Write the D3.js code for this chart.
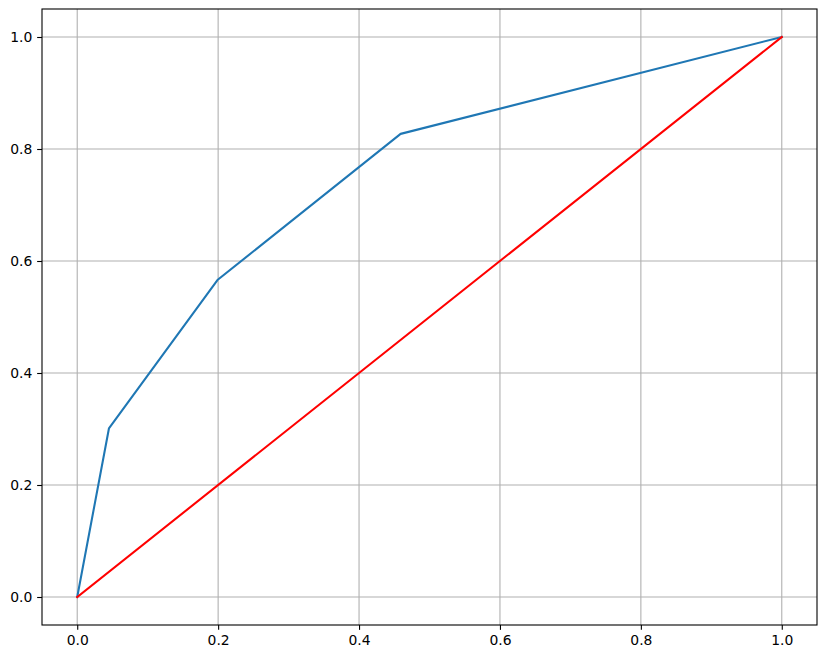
<!DOCTYPE html>
<html lang="en">
<head>
  <meta charset="UTF-8">
  <title>ROC</title>
  <style>
    body { margin: 0; background: #ffffff; }
    svg { display: block; font-family: "DejaVu Sans", sans-serif; }
    .grid line { stroke: #b0b0b0; stroke-width: 1.1; }
  </style>
  <script type="text/javascript" src="https://d3js.org/d3.v7.min.js"></script>
</head>
<body>
<script type="text/javascript">

  var fpr = [0.0, 0.045, 0.199, 0.459, 1.0];
  var tpr = [0.0, 0.301, 0.566, 0.827, 1.0];
  var diagX = [0, 1];
  var diagY = [0, 1];
  var xTicks = [0.0, 0.2, 0.4, 0.6, 0.8, 1.0];
  var yTicks = [0.0, 0.2, 0.4, 0.6, 0.8, 1.0];

  var width = 826, height = 659;
  // plot box edges (note: "top" is taken by window.top)
  var boxLeft = 42, boxTop = 9, boxRight = 817, boxBottom = 625;

  var svg = d3.select("body")
    .append("svg")
    .attr("width", width)
    .attr("height", height);

  var x = d3.scaleLinear().domain([-0.05, 1.05]).range([boxLeft, boxRight]);
  var y = d3.scaleLinear().domain([-0.05, 1.05]).range([boxBottom, boxTop]);

  // grid
  var grid = svg.append("g").attr("class", "grid");
  grid.selectAll("line.gx").data(xTicks).enter()
    .append("line")
    .attr("class", "gx")
    .attr("x1", function(d) { return x(d); })
    .attr("x2", function(d) { return x(d); })
    .attr("y1", boxTop).attr("y2", boxBottom);
  grid.selectAll("line.gy").data(yTicks).enter()
    .append("line")
    .attr("class", "gy")
    .attr("y1", function(d) { return y(d); })
    .attr("y2", function(d) { return y(d); })
    .attr("x1", boxLeft).attr("x2", boxRight);

  var line = d3.line()
    .x(function(d) { return x(d[0]); })
    .y(function(d) { return y(d[1]); });

  svg.append("path")
    .datum(d3.zip(fpr, tpr))
    .attr("d", line)
    .attr("fill", "none")
    .attr("stroke", "#1f77b4")
    .attr("stroke-width", 2.08)
    .attr("stroke-linejoin", "round")
    .attr("stroke-linecap", "square");

  svg.append("path")
    .datum(d3.zip(diagX, diagY))
    .attr("d", line)
    .attr("fill", "none")
    .attr("stroke", "red")
    .attr("stroke-width", 2.08)
    .attr("stroke-linecap", "square");

  // axes
  var fmt = d3.format(".1f");
  var xAxis = svg.append("g")
    .attr("transform", "translate(0," + boxBottom + ")")
    .call(d3.axisBottom(x).tickValues(xTicks).tickFormat(fmt).tickSize(4.86).tickPadding(4.86));
  var yAxis = svg.append("g")
    .attr("transform", "translate(" + boxLeft + ",0)")
    .call(d3.axisLeft(y).tickValues(yTicks).tickFormat(fmt).tickSize(4.86).tickPadding(4.86));

  [xAxis, yAxis].forEach(function(a) {
    a.select(".domain").remove();
    a.selectAll(".tick line").attr("stroke", "#000").attr("stroke-width", 1.1);
    a.selectAll(".tick text").attr("fill", "#000")
      .style("font-size", "13.9px")
      .style("font-family", "'DejaVu Sans', sans-serif");
  });

  svg.append("rect")
    .attr("x", boxLeft).attr("y", boxTop)
    .attr("width", boxRight - boxLeft).attr("height", boxBottom - boxTop)
    .attr("fill", "none")
    .attr("stroke", "#000")
    .attr("stroke-width", 1.1);

</script>
</body>
</html>
